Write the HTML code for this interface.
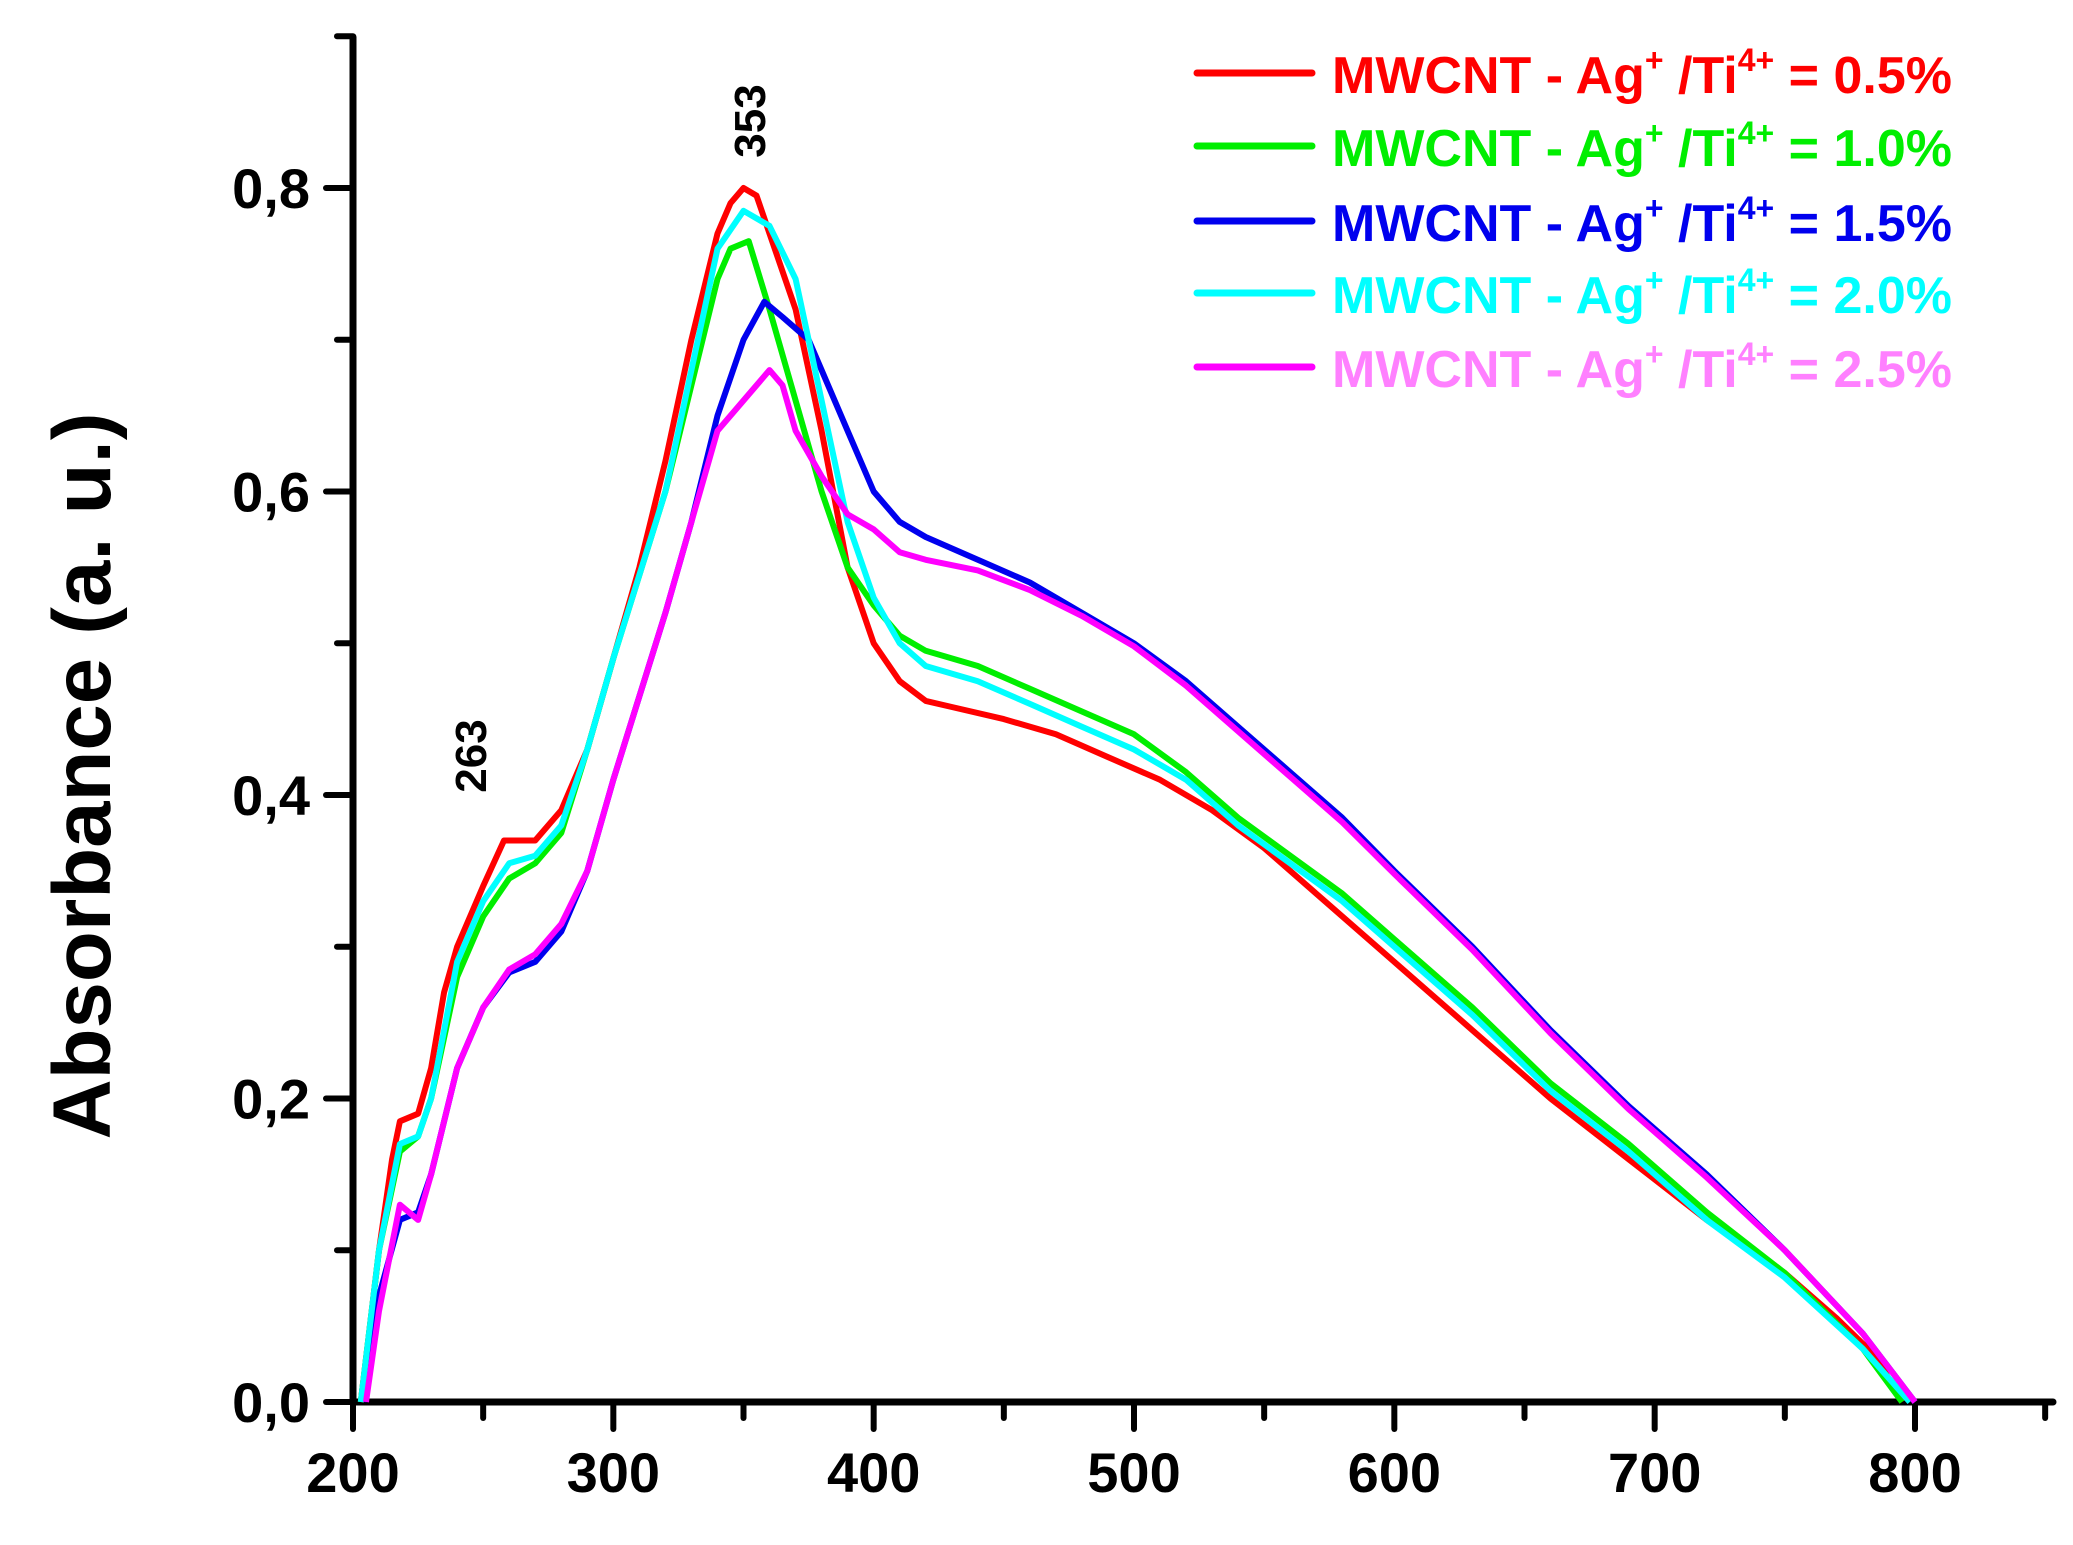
<!DOCTYPE html>
<html><head><meta charset="utf-8"><style>
html,body{margin:0;padding:0;background:#fff}
svg{display:block}
text{font-family:"Liberation Sans",Arial,sans-serif;font-weight:bold}
</style></head><body>
<svg id="chart" width="2073" height="1545" viewBox="0 0 2073 1545" xmlns="http://www.w3.org/2000/svg">
<g id="axes"></g><g id="series"></g><g id="legend"></g>
<text transform="translate(110,776) rotate(-90)" text-anchor="middle" font-size="82" textLength="727" lengthAdjust="spacingAndGlyphs">Absorbance (a. u.)</text>
<text transform="translate(765,121) rotate(-90)" text-anchor="middle" font-size="44">353</text>
<text transform="translate(486,756) rotate(-90)" text-anchor="middle" font-size="44">263</text>
</svg>
<script>
const xTicks=[200,300,400,500,600,700,800];
const yTicks=[0,0.2,0.4,0.6,0.8];
const yTickLabels=["0,0","0,2","0,4","0,6","0,8"];
const seriesNames=["MWCNT - Ag+ /Ti4+ = 0.5%","MWCNT - Ag+ /Ti4+ = 1.0%","MWCNT - Ag+ /Ti4+ = 1.5%","MWCNT - Ag+ /Ti4+ = 2.0%","MWCNT - Ag+ /Ti4+ = 2.5%"];
const legendValues=["0.5%","1.0%","1.5%","2.0%","2.5%"];
const lineColors=["#ff0000","#00ee00","#0000ee","#00ffff","#ff00ff"];
const textColors=["#ff0000","#00ee00","#0000ee","#00ffff","#ff80ff"];
const wlRed=[203,210,215,218,225,230,235,240,250,258,265,270,280,290,300,310,320,330,340,345,350,355,360,370,380,390,400,410,420,430,450,470,490,510,530,550,570,600,630,660,690,720,750,770,785,795];
const absRed=[0,0.1,0.16,0.185,0.19,0.22,0.27,0.3,0.34,0.37,0.37,0.37,0.39,0.43,0.49,0.55,0.62,0.7,0.77,0.79,0.8,0.795,0.77,0.72,0.64,0.55,0.5,0.475,0.462,0.458,0.45,0.44,0.425,0.41,0.39,0.365,0.335,0.29,0.245,0.2,0.16,0.12,0.085,0.055,0.03,0];
const wlGreen=[203,210,218,225,230,240,250,260,270,280,290,300,320,330,340,345,352,360,370,380,390,400,410,420,440,460,480,500,520,540,560,580,600,630,660,690,720,750,780,795];
const absGreen=[0,0.1,0.165,0.175,0.2,0.28,0.32,0.345,0.355,0.375,0.43,0.49,0.6,0.67,0.74,0.76,0.765,0.72,0.66,0.6,0.55,0.525,0.505,0.495,0.485,0.47,0.455,0.44,0.415,0.385,0.36,0.335,0.305,0.26,0.21,0.17,0.125,0.085,0.035,0];
const wlBlue=[204,210,218,225,230,240,250,260,270,280,290,300,320,330,340,350,358,365,375,380,390,400,410,420,440,460,480,500,520,540,560,580,600,630,660,690,720,750,780,800];
const absBlue=[0,0.07,0.12,0.125,0.15,0.22,0.26,0.283,0.29,0.31,0.35,0.41,0.52,0.58,0.65,0.7,0.725,0.715,0.7,0.68,0.64,0.6,0.58,0.57,0.555,0.54,0.52,0.5,0.475,0.445,0.415,0.385,0.35,0.3,0.245,0.195,0.15,0.1,0.045,0];
const wlCyan=[203,210,218,225,230,240,250,260,270,280,290,300,320,330,340,350,360,370,380,390,400,410,420,440,460,480,500,520,540,560,580,600,630,660,690,720,750,780,798];
const absCyan=[0,0.1,0.17,0.175,0.2,0.29,0.33,0.355,0.36,0.38,0.43,0.49,0.6,0.68,0.76,0.785,0.775,0.74,0.66,0.58,0.53,0.5,0.485,0.475,0.46,0.445,0.43,0.41,0.38,0.355,0.33,0.3,0.255,0.205,0.165,0.12,0.082,0.035,0];
const wlMag=[205,210,218,225,230,240,250,260,270,280,290,300,320,330,340,350,360,365,370,380,390,400,410,420,440,460,480,500,520,540,560,580,600,630,660,690,720,750,780,800];
const absMag=[0,0.06,0.13,0.12,0.15,0.22,0.26,0.285,0.295,0.315,0.35,0.41,0.52,0.58,0.64,0.66,0.68,0.67,0.64,0.61,0.585,0.575,0.56,0.555,0.548,0.535,0.518,0.498,0.472,0.442,0.412,0.382,0.348,0.298,0.243,0.193,0.148,0.1,0.045,0];
const seriesX=[wlRed,wlGreen,wlBlue,wlCyan,wlMag];
const seriesY=[absRed,absGreen,absBlue,absCyan,absMag];

const NS="http://www.w3.org/2000/svg";
const X0=353,X1=1915,Y0=1402,Y8=188;
function xs(v){return X0+(v-200)*(X1-X0)/600;}
function ys(v){return Y0-v*(Y0-Y8)/0.8;}
function mk(tag,attrs,parent){const e=document.createElementNS(NS,tag);for(const k in attrs)e.setAttribute(k,attrs[k]);parent.appendChild(e);return e;}
const axes=document.getElementById('axes');
let a=mk('line',{x1:X0,y1:Y0,x2:2053,y2:Y0,stroke:'#000','stroke-width':7,'stroke-linecap':'round'},axes);


a=mk('line',{x1:X0,y1:Y0,x2:X0,y2:37,stroke:'#000','stroke-width':7,'stroke-linecap':'round'},axes);


for(let v=200;v<=850;v+=50){const major=v%100===0;const t=mk('line',{x1:xs(v),y1:Y0,x2:xs(v),y2:Y0+(major?27:16),stroke:'#000','stroke-width':6,'stroke-linecap':'round'},axes);

}
xTicks.forEach(v=>{const t=mk('text',{x:xs(v),y:1492,'text-anchor':'middle','font-size':56},axes);t.textContent=v;

});
for(let i=0;i<=9;i++){const v=i*0.1;const major=i%2===0;const t=mk('line',{x1:X0,y1:ys(v),x2:X0-(major?27:16),y2:ys(v),stroke:'#000','stroke-width':6,'stroke-linecap':'round'},axes);

}
yTicks.forEach((v,i)=>{const t=mk('text',{x:310,y:ys(v)+20,'text-anchor':'end','font-size':56},axes);t.textContent=yTickLabels[i];

});
const sg=document.getElementById('series');
seriesX.forEach((xsArr,i)=>{const d=xsArr.map((w,j)=>(j?'L':'M')+xs(w).toFixed(1)+','+ys(seriesY[i][j]).toFixed(1)).join(' ');
const p=mk('path',{d:d,fill:'none',stroke:lineColors[i],'stroke-width':6,'stroke-linejoin':'round'},sg);

});
const lg=document.getElementById('legend');
const rowY=[73,146,221,293,367];
seriesNames.forEach((n,i)=>{const y=rowY[i];
const l=mk('line',{x1:1197,y1:y,x2:1312,y2:y,stroke:lineColors[i],'stroke-width':7,'stroke-linecap':'round'},lg);


const t=mk('text',{x:1332,y:y+20,fill:textColors[i],'font-size':52,textLength:620,lengthAdjust:'spacingAndGlyphs'},lg);
t.innerHTML='MWCNT - Ag<tspan dy="-22" font-size="32">+</tspan><tspan dy="22"> /Ti</tspan><tspan dy="-22" font-size="32">4+</tspan><tspan dy="22"> = '+legendValues[i]+'</tspan>';

});
</script>
</body></html>
